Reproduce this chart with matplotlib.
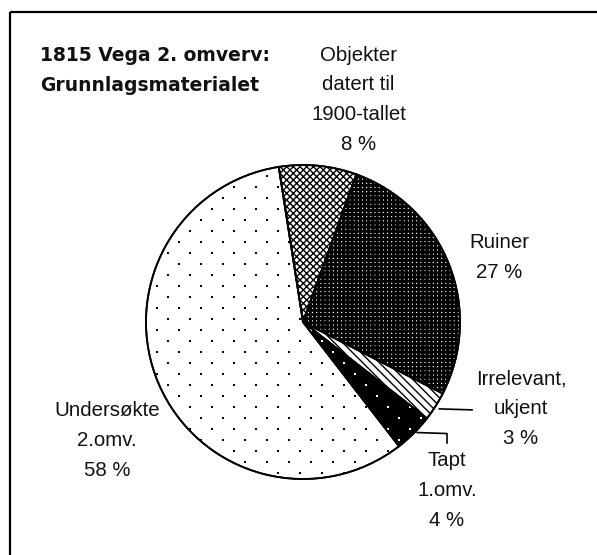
import numpy as np
import matplotlib
matplotlib.use('Agg')
import matplotlib.pyplot as plt

plt.rcParams['font.family'] = ['Liberation Sans', 'DejaVu Sans']
plt.rcParams['hatch.linewidth'] = 1.0

# data (percent)
names = ['Objekter\ndatert til\n1900-tallet', 'Ruiner', 'Irrelevant,\nukjent',
         'Tapt\n1.omv.', 'Undersøkte\n2.omv.']
shares = [8, 27, 3, 4, 58]

# styling per slice
faces = ['white', 'white', 'white', 'black', 'white']
hatches = ['xxxxx', '++++', '\\\\\\\\', None, None]
hatch_lw = [1.0, 2.1, 1.0, 1.0, 1.0]
dot_colors = [None, None, None, 'white', 'black']

W, H = 597, 555
fig = plt.figure(figsize=(W / 100, H / 100), dpi=100)
ax = fig.add_axes([0, 0, 1, 1])

# pie in pixel coords, y axis downwards -> angles grow clockwise on screen
cx, cy, r = 303, 322, 157
wedges, _ = ax.pie(shares, center=(cx, cy), radius=r, startangle=-98.9,
                   counterclock=True, frame=True,
                   wedgeprops=dict(edgecolor='black', linewidth=1.3))

# dot lattice used for the dotted fills
rows = np.arange(cy - r, cy + r + 11, 11)
lx, ly = [], []
for i, yy in enumerate(rows):
    xs = np.arange(cx - r + (11 if i % 2 else 0), cx + r + 22, 22)
    lx.extend(xs)
    ly.extend([yy] * len(xs))

for w, fc, h, lw, dc in zip(wedges, faces, hatches, hatch_lw, dot_colors):
    w.set_facecolor(fc)
    if h:
        w.set_hatch(h)
        if hasattr(w, 'set_hatch_linewidth'):
            w.set_hatch_linewidth(lw)
    if dc:
        sc = ax.scatter(lx, ly, s=3.2, marker='s', color=dc, linewidths=0, zorder=3)
        sc.set_clip_path(w)

# outlines on top of the dots
ax.pie(shares, center=(cx, cy), radius=r, startangle=-98.9, counterclock=True,
       frame=True, wedgeprops=dict(fill=False, edgecolor='black', linewidth=1.3, zorder=4))
ax.set_xlim(0, W)
ax.set_ylim(H, 0)
ax.set_aspect('equal')
ax.axis('off')

# labels
label_pos = [(358.5, 46), (499, 233.5), (521, 369.5), (447, 451.5), (107, 401.5)]
for name, v, (x, y) in zip(names, shares, label_pos):
    ax.text(x, y, f'{name}\n{v} %', ha='center', va='top', fontsize=14.7,
            linespacing=1.70, color='#111111')

ax.text(40.5, 46, '1815 Vega 2. omverv:\nGrunnlagsmaterialet', ha='left', va='top',
        fontsize=13.5, fontweight='bold', linespacing=1.72, color='#111111',
        family=['DejaVu Sans'])

# leader lines for the two thin slices
def mid_point(w, k=1.03):
    a = np.deg2rad((w.theta1 + w.theta2) / 2)
    return cx + k * r * np.cos(a), cy + k * r * np.sin(a)

x0, y0 = mid_point(wedges[2])
ax.plot([x0, 472], [y0, y0 + 1], color='black', lw=1.2)
x0, y0 = mid_point(wedges[3])
ax.plot([x0, 447, 447], [y0 - 4, y0 - 3, 443], color='black', lw=1.2)

# frame (top and left edges visible)
ax.plot([9.5, W], [12, 12], color='black', lw=1.6, solid_capstyle='butt')
ax.plot([9.5, 9.5], [12, H], color='black', lw=1.6, solid_capstyle='butt')

fig.savefig('out.png', dpi=100)
